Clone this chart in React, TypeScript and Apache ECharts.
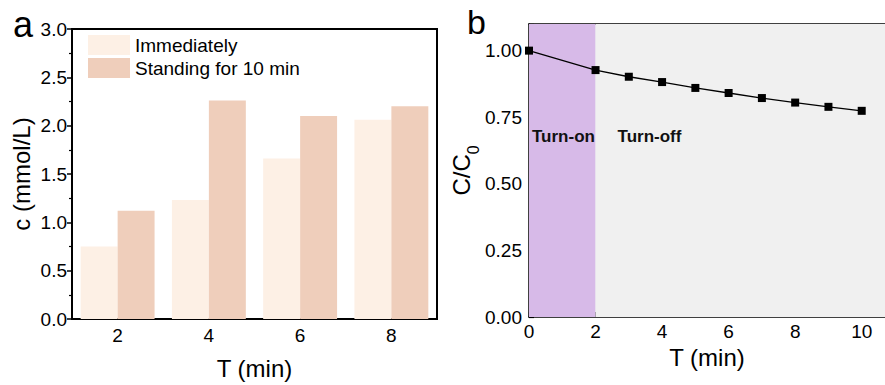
import React, { useEffect, useRef } from "react";
import * as echarts from "echarts";

const FONT = '"Liberation Sans", Arial, Helvetica, sans-serif';

// Panel a
const categories = ["2", "4", "6", "8"];
const seriesNames = ["Immediately", "Standing for 10 min"];
const immediately = [0.75, 1.23, 1.66, 2.06];
const standing = [1.12, 2.26, 2.1, 2.2];

// Panel b
const timeB = [0, 2, 3, 4, 5, 6, 7, 8, 9, 10];
const ratioB = [1.0, 0.927, 0.902, 0.882, 0.86, 0.841, 0.822, 0.805, 0.789, 0.774];
const regionLabels = ["Turn-on", "Turn-off"];
const regionBounds = [
  [0, 2],
  [2, 10.7],
];

export default function App() {
  const ref = useRef<HTMLDivElement>(null);

  useEffect(() => {
    document.body.style.margin = "0";
    const chart = echarts.init(ref.current!, null, { renderer: "svg" });
    const axisText = { fontSize: 19, color: "#000", fontFamily: FONT };
    const nameText = { fontSize: 24, color: "#000", fontFamily: FONT };

    const option: any = {
      animation: false,
      textStyle: { fontFamily: FONT },
      graphic: [
        { type: "text", left: 13, top: 6, style: { text: "a", fontSize: 36, fontFamily: FONT, fill: "#000" } },
        { type: "text", left: 467, top: 5, style: { text: "b", fontSize: 34, fontFamily: FONT, fill: "#000" } },
      ],
      legend: {
        orient: "vertical",
        left: 83,
        top: 30,
        itemWidth: 42,
        itemHeight: 20,
        itemGap: 3,
        icon: "rect",
        data: seriesNames,
        textStyle: { fontSize: 19, color: "#000", fontFamily: FONT },
      },
      grid: [
        { left: 72, top: 29, width: 365, height: 293, show: true, borderColor: "#000", borderWidth: 2, backgroundColor: "transparent" },
        { left: 529, top: 24, width: 356, height: 293, show: true, borderWidth: 0, backgroundColor: "#F0F0F0" },
      ],
      xAxis: [
        {
          gridIndex: 0,
          type: "category",
          data: categories,
          axisLine: { lineStyle: { color: "#000", width: 2 } },
          axisTick: { alignWithLabel: true, inside: true, length: 5, lineStyle: { color: "#000", width: 1.5 } },
          axisLabel: { ...axisText, margin: 7 },
          name: "T (min)",
          nameLocation: "middle",
          nameGap: 37,
          nameTextStyle: nameText,
        },
        {
          gridIndex: 0,
          type: "category",
          data: categories,
          position: "bottom",
          axisLine: { show: false },
          axisTick: { inside: true, length: 3, lineStyle: { color: "#000", width: 1.5 } },
          axisLabel: { show: false },
        },
        {
          gridIndex: 1,
          type: "value",
          min: 0,
          max: 10.7,
          interval: 2,
          axisLine: { show: true, onZero: false, lineStyle: { color: "#000", width: 1.5 } },
          axisTick: { show: true, inside: true, length: 5, lineStyle: { color: "#000", width: 1.2 } },
          minorTick: { show: true, splitNumber: 2, length: 3, lineStyle: { color: "#000", width: 1.2 } },
          splitLine: { show: false },
          axisLabel: { ...axisText, margin: 5, showMaxLabel: false },
          name: "T (min)",
          nameLocation: "middle",
          nameGap: 26,
          nameTextStyle: nameText,
        },
        {
          gridIndex: 1,
          type: "value",
          position: "top",
          min: 0,
          max: 10.7,
          axisLine: { show: true, onZero: false, lineStyle: { color: "#000", width: 1.5 } },
          axisTick: { show: false },
          axisLabel: { show: false },
          splitLine: { show: false },
        },
      ],
      yAxis: [
        {
          gridIndex: 0,
          type: "value",
          min: 0,
          max: 3,
          interval: 0.5,
          axisLine: { show: true, lineStyle: { color: "#000", width: 2 } },
          axisTick: { show: true, inside: false, length: 5, lineStyle: { color: "#000", width: 1.5 } },
          minorTick: { show: true, splitNumber: 2, length: 3, lineStyle: { color: "#000", width: 1.2 } },
          splitLine: { show: false },
          axisLabel: { ...axisText, margin: 5, formatter: (v: number) => v.toFixed(1) },
          name: "c (mmol/L)",
          nameLocation: "middle",
          nameGap: 39,
          nameTextStyle: nameText,
        },
        {
          gridIndex: 1,
          type: "value",
          min: 0,
          max: 1.1,
          interval: 0.25,
          axisLine: { show: true, onZero: false, lineStyle: { color: "#000", width: 1.5 } },
          axisTick: { show: true, inside: true, length: 5, lineStyle: { color: "#000", width: 1.2 } },
          minorTick: { show: true, splitNumber: 2, length: 3, lineStyle: { color: "#000", width: 1.2 } },
          splitLine: { show: false },
          axisLabel: { ...axisText, margin: 7, showMaxLabel: false, formatter: (v: number) => v.toFixed(2) },
          name: "{m|C/C}{s|0}",
          nameLocation: "middle",
          nameGap: 48,
          nameTextStyle: {
            ...nameText,
            rich: {
              m: { fontSize: 24, lineHeight: 32, verticalAlign: "top", fontFamily: FONT, color: "#000" },
              s: { fontSize: 16, verticalAlign: "bottom", fontFamily: FONT, color: "#000" },
            },
          },
        },
      ],
      series: [
        {
          name: seriesNames[0],
          type: "bar",
          xAxisIndex: 0,
          yAxisIndex: 0,
          data: immediately,
          barGap: "0%",
          barCategoryGap: "19%",
          itemStyle: { color: "#FDF0E5" },
        },
        {
          name: seriesNames[1],
          type: "bar",
          xAxisIndex: 0,
          yAxisIndex: 0,
          data: standing,
          barGap: "0%",
          barCategoryGap: "19%",
          itemStyle: { color: "#EFCEBB" },
        },
        {
          name: "C/C0",
          type: "line",
          xAxisIndex: 2,
          yAxisIndex: 1,
          data: timeB.map((t, i) => [t, ratioB[i]]),
          symbol: "rect",
          symbolSize: 8,
          lineStyle: { color: "#000", width: 1.3 },
          itemStyle: { color: "#000" },
          z: 5,
          markArea: {
            silent: true,
            data: [
              [
                {
                  name: regionLabels[0],
                  xAxis: regionBounds[0][0],
                  itemStyle: { color: "#D7BAE8", opacity: 1 },
                  label: { show: true, position: [3, 104], formatter: "{b}", fontSize: 17, fontWeight: "bold", color: "#111", fontFamily: FONT },
                },
                { xAxis: regionBounds[0][1] },
              ],
              [
                {
                  name: regionLabels[1],
                  xAxis: regionBounds[1][0],
                  itemStyle: { color: "#F0F0F0", opacity: 1 },
                  label: { show: true, position: [22, 104], formatter: "{b}", fontSize: 17, fontWeight: "bold", color: "#111", fontFamily: FONT },
                },
                { xAxis: regionBounds[1][1] },
              ],
            ],
          },
        },
      ],
    };
    chart.setOption(option);
    return () => chart.dispose();
  }, []);

  return <div ref={ref} style={{ width: 885, height: 385 }} />;
}
